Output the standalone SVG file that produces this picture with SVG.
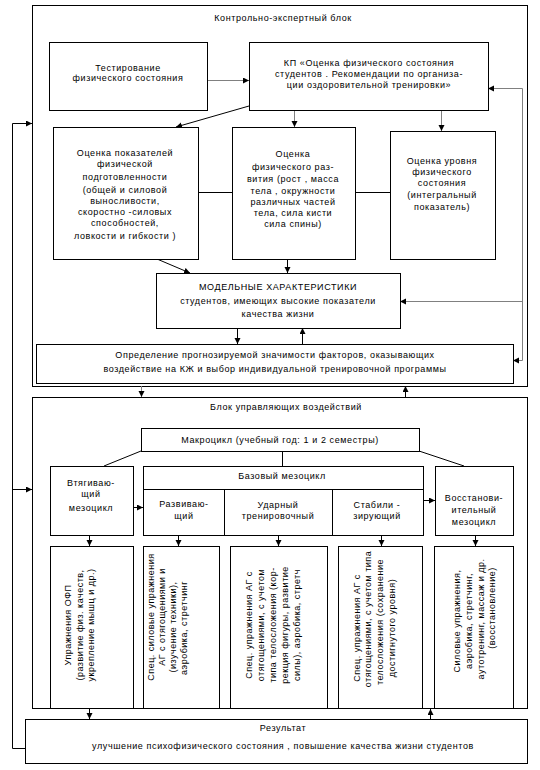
<svg xmlns="http://www.w3.org/2000/svg" width="540" height="770" viewBox="0 0 540 770">
<style>
.box{fill:#fff;stroke:#000;stroke-width:1;shape-rendering:crispEdges}
.blk{fill:none;stroke:#000;stroke-width:1;shape-rendering:crispEdges}
.t{font-family:"Liberation Sans",Arial,sans-serif;font-size:9px;letter-spacing:0.6px;text-anchor:middle;fill:#000}
.v{font-family:"Liberation Sans",Arial,sans-serif;font-size:9px;letter-spacing:0.5px;text-anchor:middle;fill:#000}
.c{fill:none;stroke:#000;stroke-width:1}
.g{fill:none;stroke:#808080;stroke-width:1}
</style>
<defs>
<marker id="ah" markerUnits="userSpaceOnUse" markerWidth="7" markerHeight="7" refX="6" refY="3" orient="auto">
<path d="M0,0 L6,3 L0,6 z" fill="#000"/>
</marker>
</defs>
<rect width="540" height="770" fill="#fff"/>

<g id="block1">
<rect class="blk" x="32.5" y="5.5" width="495" height="381"/>
<text class="t" x="283" y="21">Контрольно-экспертный блок</text>
</g>
<g id="block2">
<rect class="blk" x="32.5" y="397.5" width="495" height="311"/>
<text class="t" x="286" y="410">Блок управляющих воздействий</text>
</g>

<g id="connectors">
<line class="g" x1="207" y1="80.5" x2="249" y2="80.5" marker-end="url(#ah)"/>
<polyline class="g" points="522.5,360.5 522.5,88.5 488,88.5" marker-end="url(#ah)"/>
<line class="g" x1="522.5" y1="301.5" x2="400" y2="301.5" marker-end="url(#ah)"/>
<line class="g" x1="522.5" y1="360.5" x2="513" y2="360.5" marker-end="url(#ah)"/>
<line class="c" x1="249" y1="106" x2="176" y2="127" marker-end="url(#ah)"/>
<line class="g" x1="294.5" y1="110" x2="294.5" y2="127" marker-end="url(#ah)"/>
<line class="g" x1="441.5" y1="110" x2="441.5" y2="131" marker-end="url(#ah)"/>
<line class="c" x1="198" y1="192.5" x2="232" y2="192.5"/>
<line class="c" x1="355" y1="192.5" x2="390" y2="192.5"/>
<line class="c" x1="157" y1="259" x2="190" y2="273" marker-end="url(#ah)"/>
<line class="c" x1="287.5" y1="259" x2="287.5" y2="273" marker-end="url(#ah)"/>
<line class="c" x1="237.5" y1="328" x2="237.5" y2="344" marker-end="url(#ah)"/>
<line class="c" x1="302.5" y1="344" x2="302.5" y2="328" marker-end="url(#ah)"/>
<line class="g" x1="141.5" y1="386" x2="141.5" y2="397" marker-end="url(#ah)"/>
<line class="c" x1="405.5" y1="397" x2="405.5" y2="386" marker-end="url(#ah)"/>
<polyline class="c" points="25,748.5 12.5,748.5 12.5,123.5 32,123.5" marker-end="url(#ah)"/>
<line class="c" x1="12.5" y1="489.5" x2="32" y2="489.5" marker-end="url(#ah)"/>
<line class="c" x1="141" y1="451" x2="104" y2="466"/>
<line class="c" x1="282.5" y1="451" x2="282.5" y2="466"/>
<line class="c" x1="419" y1="451" x2="464" y2="466"/>
<line class="c" x1="133" y1="507.5" x2="143" y2="507.5" marker-end="url(#ah)"/>
<line class="c" x1="217" y1="522.5" x2="229" y2="522.5" marker-end="url(#ah)"/>
<line class="c" x1="326" y1="522.5" x2="342" y2="522.5" marker-end="url(#ah)"/>
<line class="c" x1="423" y1="500.5" x2="435" y2="500.5" marker-end="url(#ah)"/>
<line class="c" x1="89.5" y1="535" x2="89.5" y2="546" marker-end="url(#ah)"/>
<line class="c" x1="178.5" y1="535" x2="178.5" y2="546" marker-end="url(#ah)"/>
<line class="c" x1="278.5" y1="535" x2="278.5" y2="546" marker-end="url(#ah)"/>
<line class="c" x1="381.5" y1="535" x2="381.5" y2="546" marker-end="url(#ah)"/>
<line class="c" x1="475.5" y1="535" x2="475.5" y2="546" marker-end="url(#ah)"/>
<line class="c" x1="89.5" y1="709" x2="89.5" y2="719" marker-end="url(#ah)"/>
<line class="c" x1="430.5" y1="719" x2="430.5" y2="709" marker-end="url(#ah)"/>
</g>

<g id="test">
<rect class="box" x="49.5" y="42.5" width="158" height="68"/>
<text class="t" x="128" y="71">Тестирование</text>
<text class="t" x="128" y="81">физического  состояния</text>
</g>
<g id="kp">
<rect class="box" x="249.5" y="42.5" width="239" height="68"/>
<text class="t" x="369" y="66">КП «Оценка физического  состояния</text>
<text class="t" x="369" y="77">студентов . Рекомендации по организа-</text>
<text class="t" x="369" y="88">ции  оздоровительной тренировки»</text>
</g>
<g id="ocenka-pokaz">
<rect class="box" x="53.5" y="127.5" width="145" height="132"/>
<text class="t" x="125" y="156">Оценка  показателей</text>
<text class="t" x="125" y="167">физической</text>
<text class="t" x="125" y="180">подготовленности</text>
<text class="t" x="125" y="193">(общей  и силовой</text>
<text class="t" x="125" y="204">выносливости,</text>
<text class="t" x="125" y="215">скоростно -силовых</text>
<text class="t" x="125" y="226">способностей,</text>
<text class="t" x="125" y="239">ловкости  и гибкости )</text>
</g>
<g id="ocenka-razv">
<rect class="box" x="232.5" y="127.5" width="123" height="132"/>
<text class="t" x="293" y="157">Оценка</text>
<text class="t" x="293" y="170">физического  раз-</text>
<text class="t" x="293" y="182">вития (рост , масса</text>
<text class="t" x="293" y="194">тела ,  окружности</text>
<text class="t" x="293" y="205">различных  частей</text>
<text class="t" x="293" y="216">тела, сила  кисти</text>
<text class="t" x="293" y="227">сила  спины)</text>
</g>
<g id="ocenka-urov">
<rect class="box" x="390.5" y="131.5" width="105" height="128"/>
<text class="t" x="442" y="164">Оценка  уровня</text>
<text class="t" x="442" y="175">физического</text>
<text class="t" x="442" y="186">состояния</text>
<text class="t" x="442" y="198">(интегральный</text>
<text class="t" x="442" y="210">показатель)</text>
</g>
<g id="model">
<rect class="box" x="156.5" y="273.5" width="244" height="55"/>
<text class="t" x="278" y="290">МОДЕЛЬНЫЕ  ХАРАКТЕРИСТИКИ</text>
<text class="t" x="278" y="304">студентов, имеющих высокие  показатели</text>
<text class="t" x="278" y="317">качества жизни</text>
</g>
<g id="opredelenie">
<rect class="box" x="36.5" y="344.5" width="477" height="39"/>
<text class="t" x="275" y="358">Определение  прогнозируемой значимости  факторов, оказывающих</text>
<text class="t" x="275" y="372">воздействие  на  КЖ  и выбор  индивидуальной  тренировочной  программы</text>
</g>

<g id="makrocikl">
<rect class="box" x="141.5" y="428.5" width="278" height="23"/>
<text class="t" x="280" y="443">Макроцикл (учебный  год: 1 и 2 семестры)</text>
</g>
<g id="vtyag">
<rect class="box" x="50.5" y="466.5" width="83" height="69"/>
<text class="t" x="91" y="486">Втягиваю-</text>
<text class="t" x="91" y="497">щий</text>
<text class="t" x="91" y="511">мезоцикл</text>
</g>
<g id="bazovy">
<rect class="box" x="143.5" y="466.5" width="280" height="69"/>
<line class="blk" x1="143.5" y1="489.5" x2="423.5" y2="489.5"/>
<line class="blk" x1="224.5" y1="489.5" x2="224.5" y2="535.5"/>
<line class="blk" x1="332.5" y1="489.5" x2="332.5" y2="535.5"/>
<text class="t" x="282" y="479">Базовый  мезоцикл</text>
<text class="t" x="184" y="507">Развиваю-</text>
<text class="t" x="184" y="519">щий</text>
<text class="t" x="278" y="508">Ударный</text>
<text class="t" x="278" y="519">тренировочный</text>
<text class="t" x="377" y="508">Стабили -</text>
<text class="t" x="377" y="519">зирующий</text>
</g>
<g id="vosst">
<rect class="box" x="435.5" y="466.5" width="78" height="69"/>
<text class="t" x="474" y="501">Восстанови-</text>
<text class="t" x="474" y="513">ительный</text>
<text class="t" x="474" y="525">мезоцикл</text>
</g>

<g id="v1">
<rect class="box" x="50.5" y="546.5" width="83" height="162"/>
<text class="v" transform="translate(71,625) rotate(-90)">Упражнения ОФП</text>
<text class="v" transform="translate(83,625) rotate(-90)">(развитие физ. качеств,</text>
<text class="v" transform="translate(94,625) rotate(-90)">укрепление мышц и др.)</text>
</g>
<g id="v2">
<rect class="box" x="143.5" y="546.5" width="76" height="162"/>
<text class="v" transform="translate(154,617) rotate(-90)">Спец. силовые упражнения</text>
<text class="v" transform="translate(165,617) rotate(-90)">АГ с отягощениями и</text>
<text class="v" transform="translate(176,627) rotate(-90)">(изучение техники),</text>
<text class="v" transform="translate(187,628) rotate(-90)">аэробика,  стретчинг</text>
</g>
<g id="v3">
<rect class="box" x="230.5" y="546.5" width="97" height="162"/>
<text class="v" transform="translate(252,625) rotate(-90)">Спец.  упражнения АГ с</text>
<text class="v" transform="translate(264,625) rotate(-90)">отягощениями, с учетом</text>
<text class="v" transform="translate(276,625) rotate(-90)">типа телосложения (кор-</text>
<text class="v" transform="translate(288,625) rotate(-90)">рекция фигуры, развитие</text>
<text class="v" transform="translate(300,625) rotate(-90)">силы), аэробика, стретч</text>
</g>
<g id="v4">
<rect class="box" x="338.5" y="546.5" width="84" height="162"/>
<text class="v" transform="translate(360,628) rotate(-90)">Спец. упражнения АГ с</text>
<text class="v" transform="translate(371,619) rotate(-90)">отягощениями, с учетом типа</text>
<text class="v" transform="translate(383,622) rotate(-90)">телосложения (сохранение</text>
<text class="v" transform="translate(395,628) rotate(-90)">достигнутого  уровня)</text>
</g>
<g id="v5">
<rect class="box" x="434.5" y="546.5" width="79" height="162"/>
<text class="v" transform="translate(460,621) rotate(-90)">Силовые упражнения,</text>
<text class="v" transform="translate(472,621) rotate(-90)">аэробика, стретчинг,</text>
<text class="v" transform="translate(484,619) rotate(-90)">аутотренинг, массаж и др.</text>
<text class="v" transform="translate(495,608) rotate(-90)">(восстановление)</text>
</g>

<g id="result">
<rect class="box" x="25.5" y="719.5" width="502" height="44"/>
<text class="t" x="283" y="731">Результат</text>
<text class="t" x="283" y="749">улучшение  психофизического состояния , повышение  качества жизни  студентов</text>
</g>
</svg>
